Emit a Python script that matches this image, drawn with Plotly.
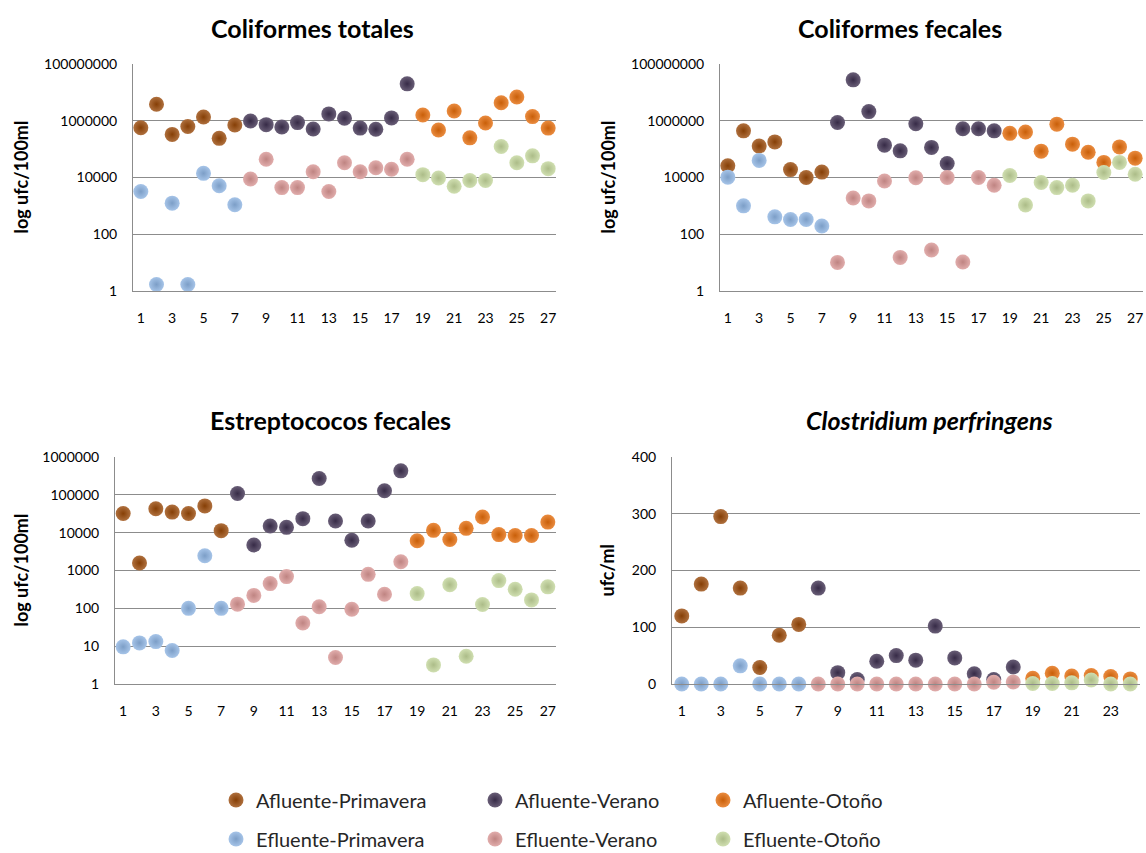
import plotly.graph_objects as go

W, H = 1146, 853
FONT = "Lato"

# ---- series definitions -------------------------------------------------
series_names = ["Afluente-Primavera", "Afluente-Verano", "Afluente-Otoño",
                "Efluente-Primavera", "Efluente-Verano", "Efluente-Otoño"]
series_colors = ["#984807", "#3F3151", "#E46C0A",
                 "#8DB3E2", "#D99694", "#C3D69B"]

# sample numbers for each season
x_primavera = [1, 2, 3, 4, 5, 6, 7]
x_verano = [8, 9, 10, 11, 12, 13, 14, 15, 16, 17, 18]
x_otono = [19, 20, 21, 22, 23, 24, 25, 26, 27]
x_otono_cp = [19, 20, 21, 22, 23, 24]

# ---- Coliformes totales (ufc/100ml) -------------------------------------
ct_afl_prim = [5.7e5, 3.8e6, 3.3e5, 6.3e5, 1.35e6, 2.4e5, 7.1e5]
ct_efl_prim = [3.2e3, 1.7, 1.25e3, 1.7, 1.4e4, 5.1e3, 1.1e3]
ct_afl_ver = [9.8e5, 7.3e5, 6.0e5, 8.6e5, 5.1e5, 1.74e6, 1.23e6, 5.5e5, 5.0e5, 1.26e6, 2.0e7]
ct_efl_ver = [8.9e3, 4.4e4, 4.4e3, 4.4e3, 1.6e4, 3.2e3, 3.3e4, 1.6e4, 2.2e4, 1.95e4, 4.4e4]
ct_afl_oto = [1.6e6, 4.7e5, 2.2e6, 2.5e5, 8.3e5, 4.3e6, 6.9e6, 1.4e6, 5.5e5]
ct_efl_oto = [1.26e4, 9.6e3, 4.9e3, 7.8e3, 7.8e3, 1.24e5, 3.3e4, 5.8e4, 2.05e4]

# ---- Coliformes fecales (ufc/100ml) -------------------------------------
cf_afl_prim = [2.6e4, 4.4e5, 1.28e5, 1.8e5, 1.9e4, 1.0e4, 1.55e4]
cf_efl_prim = [1.03e4, 1.0e3, 4.0e4, 4.1e2, 3.3e2, 3.3e2, 1.95e2]
cf_afl_ver = [8.7e5, 2.76e7, 2.1e6, 1.38e5, 8.7e4, 7.8e5, 1.15e5, 3.1e4, 5.2e5, 5.2e5, 4.4e5]
cf_efl_ver = [10.2, 1.9e3, 1.5e3, 7.5e3, 15.3, 9.8e3, 28, 1.0e4, 10.5, 1.0e4, 5.3e3]
cf_afl_oto = [3.6e5, 4.0e5, 8.5e4, 7.6e5, 1.5e5, 7.8e4, 3.4e4, 1.2e5, 4.8e4]
cf_efl_oto = [1.18e4, 1.07e3, 6.7e3, 4.4e3, 5.3e3, 1.5e3, 1.5e4, 3.4e4, 1.3e4]

# ---- Estreptococos fecales (ufc/100ml) ----------------------------------
ef_afl_prim = [3.2e4, 1.58e3, 4.3e4, 3.5e4, 3.2e4, 5.1e4, 1.13e4]
ef_efl_prim = [9.6, 12.2, 13.2, 7.7, 100, 2.45e3, 100]
ef_afl_ver = [1.08e5, 4.7e3, 1.5e4, 1.38e4, 2.35e4, 2.7e5, 2.04e4, 6.3e3, 2.04e4, 1.28e5, 4.3e5]
ef_efl_ver = [129, 220, 450, 690, 41, 110, 5.0, 95, 790, 235, 1700]
ef_afl_oto = [6.1e3, 1.15e4, 6.6e3, 1.3e4, 2.6e4, 8.9e3, 8.4e3, 8.4e3, 1.9e4]
ef_efl_oto = [245, 3.2, 420, 5.4, 126, 540, 320, 167, 370]

# ---- Clostridium perfringens (ufc/ml) -----------------------------------
cp_afl_prim = [120, 176, 295, 169, 29, 86, 105]
cp_efl_prim = [0, 0, 0, 32, 0, 0, 0]
cp_afl_ver = [169, 20, 8, 40, 50, 42, 102, 46, 18, 8, 30]
cp_efl_ver = [0, 0, 0, 0, 0, 0, 0, 0, 0, 3, 3.5]
cp_afl_oto = [10, 19, 14, 15, 13, 9]
cp_efl_oto = [1, 1, 2, 7, 0, 0]

log_ticks = [1, 100, 10000, 1000000, 100000000]
log_ticks_ef = [1, 10, 100, 1000, 10000, 100000, 1000000]
lin_ticks = [0, 100, 200, 300, 400]
x_ticks_27 = list(range(1, 28, 2))
x_ticks_24 = list(range(1, 24, 2))

panels = [
    dict(title="<b>Coliformes totales</b>", ytitle="log ufc/100ml",
         xs=[x_primavera, x_verano, x_otono, x_primavera, x_verano, x_otono],
         ys=[ct_afl_prim, ct_afl_ver, ct_afl_oto, ct_efl_prim, ct_efl_ver, ct_efl_oto]),
    dict(title="<b>Coliformes fecales</b>", ytitle="log ufc/100ml",
         xs=[x_primavera, x_verano, x_otono, x_primavera, x_verano, x_otono],
         ys=[cf_afl_prim, cf_afl_ver, cf_afl_oto, cf_efl_prim, cf_efl_ver, cf_efl_oto]),
    dict(title="<b>Estreptococos fecales</b>", ytitle="log ufc/100ml",
         xs=[x_primavera, x_verano, x_otono, x_primavera, x_verano, x_otono],
         ys=[ef_afl_prim, ef_afl_ver, ef_afl_oto, ef_efl_prim, ef_efl_ver, ef_efl_oto]),
    dict(title="<b><i>Clostridium perfringens</i></b>", ytitle="ufc/ml",
         xs=[x_primavera, x_verano, x_otono_cp, x_primavera, x_verano, x_otono_cp],
         ys=[cp_afl_prim, cp_afl_ver, cp_afl_oto, cp_efl_prim, cp_efl_ver, cp_efl_oto]),
]

# plot-area boxes in pixels: (left, right, top, bottom)
boxes = [(133, 556, 64, 291), (720, 1143, 64, 291),
         (115, 556, 457, 684), (672, 1140, 457, 684)]
title_pos = [(312, 28), (900, 28), (330, 420), (929, 420)]
ytitle_x = [20, 607, 20, 606]


def fx(px):
    return px / W


def fy(py):
    return 1 - py / H


def mix(hex_color, other, t):
    a = [int(hex_color[i:i + 2], 16) for i in (1, 3, 5)]
    b = [int(other[i:i + 2], 16) for i in (1, 3, 5)]
    c = [round(a[k] + (b[k] - a[k]) * t) for k in range(3)]
    return "#%02X%02X%02X" % tuple(c)


fig = go.Figure()

for p, panel in enumerate(panels):
    sfx = "" if p == 0 else str(p + 1)
    for s, name in enumerate(series_names):
        base = series_colors[s]
        fig.add_trace(go.Scatter(
            x=panel["xs"][s], y=panel["ys"][s], mode="markers", name=name,
            xaxis="x" + sfx, yaxis="y" + sfx,
            legend="legend" if s == 0 else "legend%d" % (s + 1),
            legendgroup=name, showlegend=(p == 0), cliponaxis=False,
            marker=dict(size=15, color=mix(base, "#FFFFFF", 0.22),
                        gradient=dict(type="radial", color=mix(base, "#000000", 0.12)),
                        line=dict(width=0)),
        ))

layout = dict(width=W, height=H, margin=dict(l=0, r=0, t=0, b=0, autoexpand=False),
              paper_bgcolor="white", plot_bgcolor="white",
              font=dict(family=FONT, size=14, color="#000000"),
              annotations=[])

grid = "#8C8C8C"
for p, panel in enumerate(panels):
    sfx = "" if p == 0 else str(p + 1)
    l, r, t, b = boxes[p]
    n_cat = 24 if p == 3 else 27
    xa = dict(domain=[fx(l), fx(r)], anchor="y" + sfx, range=[0.5, n_cat + 0.5],
              tickvals=x_ticks_24 if p == 3 else x_ticks_27,
              showgrid=False, zeroline=False, showline=True, linecolor=grid, linewidth=1,
              ticks="outside", ticklen=14, tickcolor="rgba(0,0,0,0)",
              tickfont=dict(size=14, family=FONT))
    if p == 3:
        ya = dict(type="linear", range=[0, 400], tickvals=lin_ticks)
    elif p == 2:
        ya = dict(type="log", range=[0, 6], tickvals=log_ticks_ef,
                  ticktext=[str(v) for v in log_ticks_ef])
    else:
        ya = dict(type="log", range=[0, 8], tickvals=log_ticks,
                  ticktext=[str(v) for v in log_ticks])
    ya.update(domain=[fy(b), fy(t)], anchor="x" + sfx, showgrid=True, gridcolor=grid,
              gridwidth=1, zeroline=False, showline=True, linecolor=grid, linewidth=1,
              ticks="outside", ticklen=12, tickcolor="rgba(0,0,0,0)",
              tickfont=dict(size=14, family=FONT))
    layout["xaxis" + sfx] = xa
    layout["yaxis" + sfx] = ya

    tx, ty = title_pos[p]
    layout["annotations"].append(dict(
        text=panel["title"], x=fx(tx), y=fy(ty), xref="paper", yref="paper",
        xanchor="center", yanchor="middle", showarrow=False,
        font=dict(size=25, family=FONT, color="#000000")))
    layout["annotations"].append(dict(
        text="<b>%s</b>" % panel["ytitle"], x=fx(ytitle_x[p]), y=fy((t + b) / 2),
        xref="paper", yref="paper", xanchor="center", yanchor="middle",
        textangle=-90, showarrow=False,
        font=dict(size=18, family=FONT, color="#000000")))

# legend: two rows of three columns below the panels
leg_cols = [236, 495, 723]
leg_rows = [800, 839]
for s in range(6):
    key = "legend" if s == 0 else "legend%d" % (s + 1)
    cx = leg_cols[s % 3]
    cy = leg_rows[s // 3]
    layout[key] = dict(x=fx(cx - 20), y=fy(cy), xanchor="left", yanchor="middle",
                       orientation="v", bgcolor="rgba(0,0,0,0)", borderwidth=0,
                       font=dict(size=20, family=FONT, color="#262626"))

fig.update_layout(**layout)
fig.write_html("out.html")
